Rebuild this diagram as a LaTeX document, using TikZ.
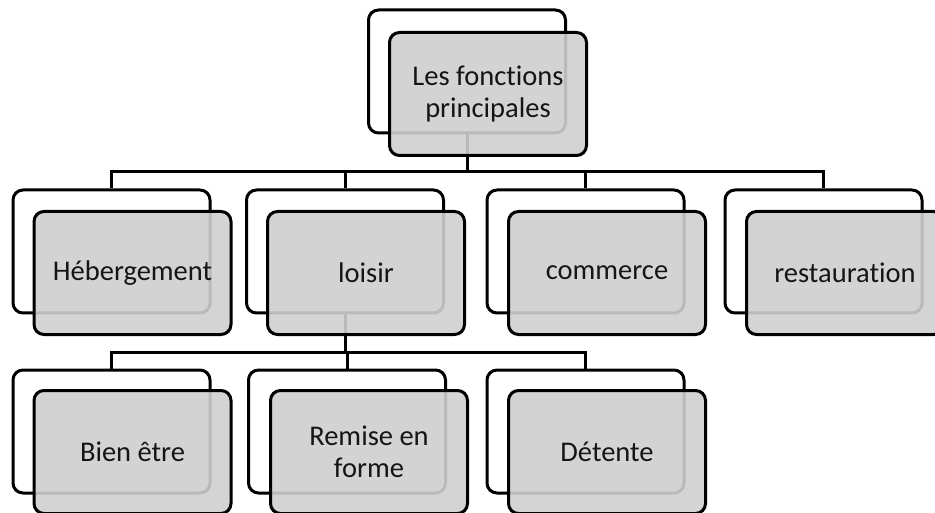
\documentclass[tikz,border=0pt]{standalone}
\usepackage{fontspec}
\setmainfont{Carlito}[Ligatures=NoCommon]
\definecolor{frontfill}{HTML}{CFCFCF}
\definecolor{txt}{HTML}{151515}
\tikzset{
  backbox/.style={draw=black, line width=3pt, fill=white, rounded corners=10pt,
    minimum width=197pt, minimum height=123pt, inner sep=0pt},
  frontbox/.style={draw=black, line width=3pt, fill=frontfill, fill opacity=0.9,
    text opacity=1, rounded corners=10pt, minimum width=197pt, minimum height=123pt,
    inner sep=0pt, align=center, text=txt,
    font=\fontsize{28.5pt}{32pt}\selectfont},
  conn/.style={draw=black, line width=3pt}
}
\begin{document}
\begin{tikzpicture}[x=1pt,y=-1pt]
\useasboundingbox (0,0) rectangle (935,513);
\clip (0,0) rectangle (935,513);
% back boxes
\node[backbox] (tb) at (467,71.5) {};
\node[backbox] (hb) at (111.5,251.5) {};
\node[backbox] (lb) at (345,251.5) {};
\node[backbox] (cb) at (585.5,251.5) {};
\node[backbox] (rb) at (823.5,251.5) {};
\node[backbox] (bb) at (111.5,431.5) {};
\node[backbox] (mb) at (347,431.5) {};
\node[backbox] (db) at (585.5,431.5) {};
% connectors
\coordinate (j1) at (467,172);
\coordinate (j2) at (345,352);
\draw[conn] (tb.south) -- (j1);
\draw[conn] (j1) -| (hb.north);
\draw[conn] (j1) -| (lb.north);
\draw[conn] (j1) -| (cb.north);
\draw[conn] (j1) -| (rb.north);
\draw[conn] (lb.south) -- (j2);
\draw[conn] (j2) -| (bb.north);
\draw[conn] (j2) -| (mb.north);
\draw[conn] (j2) -| (db.north);
% front boxes
\node[frontbox] (t) at (488,94) {Les fonctions\\principales};
\node[frontbox] (h) at (132.5,273) {Hébergement};
\node[frontbox] (l) at (366,273) {loisir};
\node[frontbox] (c) at (607,273) {commerce};
\node[frontbox] (r) at (845,273) {restauration};
\node[frontbox] (b) at (132.5,452) {Bien être};
\node[frontbox] (m) at (369,452) {Remise en\\forme};
\node[frontbox] (d) at (607,452) {Détente};
\end{tikzpicture}
\end{document}
